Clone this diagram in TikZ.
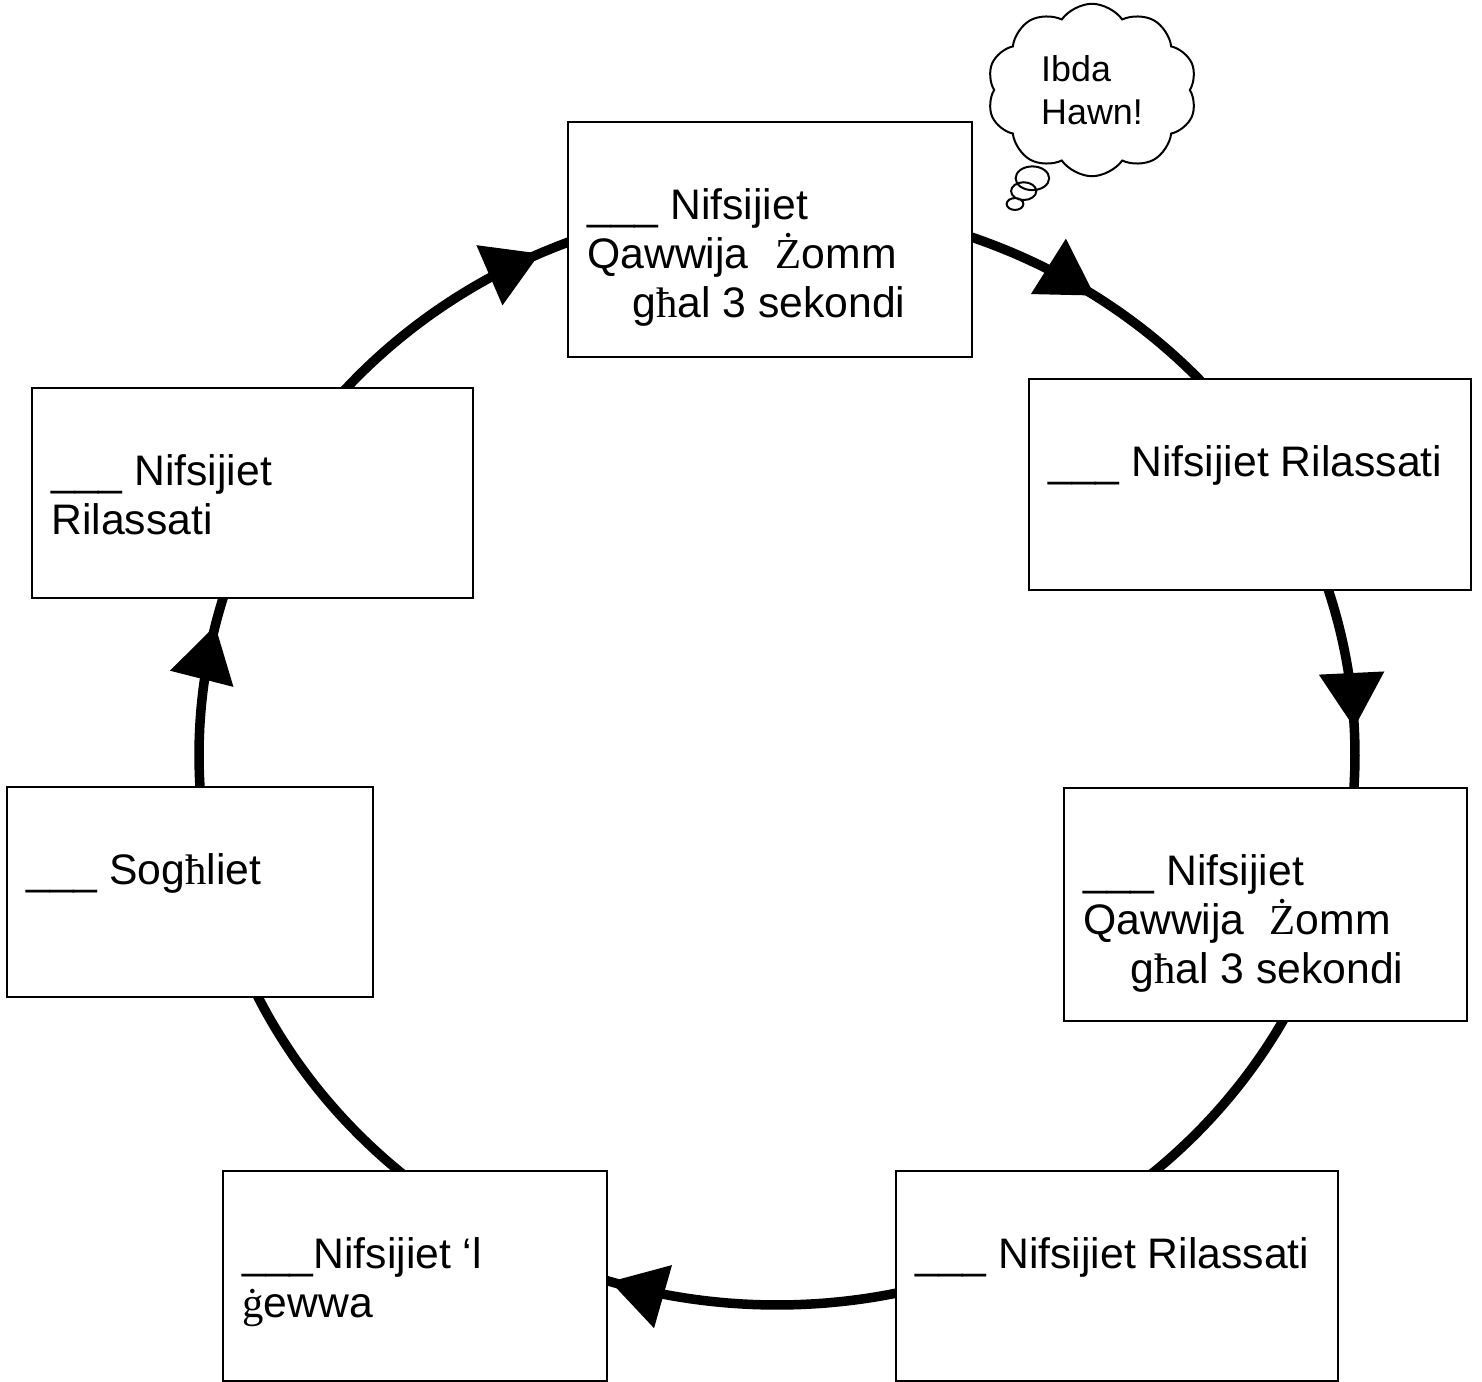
\documentclass[tikz,border=0pt]{standalone}
\usepackage{fontspec}
\setmainfont{Liberation Sans}
\newfontfamily\serifglyph{Liberation Serif}
\newcommand{\tms}[1]{{\serifglyph #1}}
\usetikzlibrary{positioning,shapes.symbols,shapes.callouts,arrows.meta,decorations.markings}

\tikzset{
  box/.style={draw, line width=0.04cm, fill=white, inner sep=0pt},
  txt/.style={font=\fontsize{24.3}{27.9}\selectfont, align=left, inner sep=0pt},
  ring/.style={line width=0.19cm},
  tipat/.style={postaction={decorate},
    decoration={markings, mark=at position #1 with {\arrow{Triangle[length=1.1cm,width=1.26cm]}}}},
}
% one piece of the breathing ring (angles run clockwise)
\newcommand{\ringarc}[3][]{\draw[ring,#1] plot[domain=#2:#3,samples=50] ({777+578*cos(\x)},{755+550*sin(\x)});}

\begin{document}
\begin{tikzpicture}[x=0.02cm,y=-0.02cm]
\useasboundingbox (0,0) rectangle (1482,1382);
% ring
\ringarc[tipat=0.83]{-145}{-108}
\ringarc[tipat=0.5]{-75}{-38}
\ringarc[tipat=0.64]{-22}{8}
\ringarc{15}{65}
\ringarc[tipat=0.87]{72}{112}
\ringarc{120}{160}
\ringarc[tipat=0.80]{168}{200}
% boxes
\node[box, minimum width=8.08cm, minimum height=4.7cm] (hold1) at (770,239.5) {};
\node[box, minimum width=8.84cm, minimum height=4.22cm] (relax1) at (1250,484.5) {};
\node[box, minimum width=8.06cm, minimum height=4.68cm] (hold2) at (1265.5,904.5) {};
\node[box, minimum width=8.84cm, minimum height=4.2cm] (relax2) at (1117,1276) {};
\node[box, minimum width=7.68cm, minimum height=4.2cm] (inhale) at (415,1276) {};
\node[box, minimum width=7.32cm, minimum height=4.2cm] (sighs) at (190,892) {};
\node[box, minimum width=8.82cm, minimum height=4.2cm] (relax3) at (252.5,493) {};
% texts
\node[txt, below right=1.35cm and 0.4cm of hold1.north west] (hold1txt)
  {\_\_\_ Nifsijiet\\Qawwija\hspace*{0.54cm}\tms{Ż}omm\\\hspace*{0.9cm}g\tms{ħ}al 3 sekondi};
\node[txt, below right=1.35cm and 0.4cm of relax1.north west] (relax1txt)
  {\_\_\_ Nifsijiet Rilassati};
\node[txt, below right=1.35cm and 0.4cm of hold2.north west] (hold2txt)
  {\_\_\_ Nifsijiet\\Qawwija\hspace*{0.5cm}\tms{Ż}omm\\\hspace*{0.94cm}g\tms{ħ}al 3 sekondi};
\node[txt, below right=1.35cm and 0.4cm of relax2.north west] (relax2txt)
  {\_\_\_ Nifsijiet Rilassati};
\node[txt, below right=1.35cm and 0.4cm of inhale.north west] (inhaletxt)
  {\_\_\_Nifsijiet ‘l\\\tms{ġ}ewwa};
\node[txt, below right=1.35cm and 0.4cm of sighs.north west] (sighstxt)
  {\_\_\_ Sog\tms{ħ}liet};
\node[txt, below right=1.35cm and 0.4cm of relax3.north west] (relax3txt)
  {\_\_\_ Nifsijiet\\Rilassati};
% start bubble
\node[cloud callout, draw, line width=0.04cm, cloud puffs=10, cloud puff arc=110,
  aspect=1.25, minimum width=4.2cm, minimum height=3.45cm, inner sep=0pt,
  callout absolute pointer={(1015,204)}, callout pointer segments=3,
  callout pointer start size=.2 of callout, callout pointer end size=.08 of callout,
  font=\fontsize{20.4}{24.4}\selectfont, align=left] (start) at (1092,90) {Ibda\\Hawn!};
\end{tikzpicture}
\end{document}
